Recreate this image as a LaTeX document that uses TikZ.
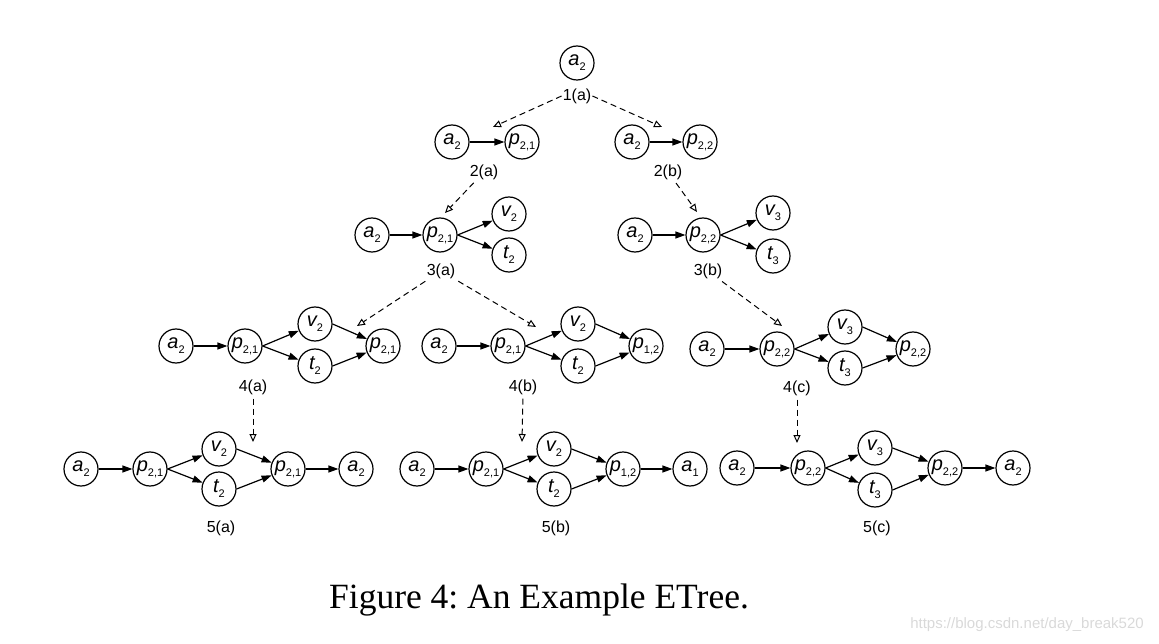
\documentclass[tikz,border=0pt]{standalone}
\usepackage{fontspec}
\setmainfont{Liberation Serif}
\newfontfamily\helv{Liberation Sans}
\usetikzlibrary{arrows.meta}
\newcommand\nl[2]{{\fontsize{20}{20}\selectfont\itshape #1}\raisebox{-5pt}{\fontsize{11}{11}\selectfont #2}}
\tikzset{
  st/.style={circle,draw,line width=1.2pt,minimum size=34pt,inner sep=0pt,font=\helv},
  lab/.style={font=\helv\fontsize{16}{16}\selectfont,inner sep=1pt},
  arr/.style={line width=1.2pt,-{Triangle[length=10pt,width=7pt]}},
  darr/.style={line width=1pt,dash pattern=on 6pt off 4pt,-{Triangle[open,length=8pt,width=7pt]}},
}
\begin{document}
\begin{tikzpicture}[x=1pt,y=-1pt]
\useasboundingbox (0,0) rectangle (1159,644);
% level 1
\node[st] (r) at (577,63) {\nl{a}{2}};
\node[lab] (l1a) at (577,96) {1(a)};
% level 2
\node[st] (b1) at (452,142) {\nl{a}{2}};
\node[st] (b2) at (522,142) {\nl{p}{2,1}};
\node[st] (b3) at (632,142) {\nl{a}{2}};
\node[st] (b4) at (700,142) {\nl{p}{2,2}};
\node[lab] (l2a) at (484,172) {2(a)};
\node[lab] (l2b) at (668,172) {2(b)};
\draw[arr] (b1) -- (b2);
\draw[arr] (b3) -- (b4);
% level 3
\node[st] (c1) at (372,235) {\nl{a}{2}};
\node[st] (c2) at (440,235) {\nl{p}{2,1}};
\node[st] (c3) at (509,214) {\nl{v}{2}};
\node[st] (c4) at (509,255) {\nl{t}{2}};
\node[lab] (l3a) at (441,271) {3(a)};
\node[st] (d1) at (635,235) {\nl{a}{2}};
\node[st] (d2) at (703,235) {\nl{p}{2,2}};
\node[st] (d3) at (773,213) {\nl{v}{3}};
\node[st] (d4) at (773,256) {\nl{t}{3}};
\node[lab] (l3b) at (708,271) {3(b)};
\draw[arr] (c1) -- (c2);
\draw[arr] (c2.east) -- (c3);
\draw[arr] (c2.east) -- (c4);
\draw[arr] (d1) -- (d2);
\draw[arr] (d2.east) -- (d3);
\draw[arr] (d2.east) -- (d4);
% level 4
\node[st] (e1) at (176,346) {\nl{a}{2}};
\node[st] (e2) at (245,346) {\nl{p}{2,1}};
\node[st] (e3) at (315,324) {\nl{v}{2}};
\node[st] (e4) at (315,366) {\nl{t}{2}};
\node[st] (e5) at (383,346) {\nl{p}{2,1}};
\node[lab] (l4a) at (253,387) {4(a)};
\node[st] (f1) at (439,346) {\nl{a}{2}};
\node[st] (f2) at (508,346) {\nl{p}{2,1}};
\node[st] (f3) at (578,324) {\nl{v}{2}};
\node[st] (f4) at (578,366) {\nl{t}{2}};
\node[st] (f5) at (646,346) {\nl{p}{1,2}};
\node[lab] (l4b) at (523,387) {4(b)};
\node[st] (g1) at (707,349) {\nl{a}{2}};
\node[st] (g2) at (777,349) {\nl{p}{2,2}};
\node[st] (g3) at (845,327) {\nl{v}{3}};
\node[st] (g4) at (845,368) {\nl{t}{3}};
\node[st] (g5) at (913,349) {\nl{p}{2,2}};
\node[lab] (l4c) at (797,388) {4(c)};
\foreach \p in {e,f,g}{
  \draw[arr] (\p1) -- (\p2);
  \draw[arr] (\p2.east) -- (\p3);
  \draw[arr] (\p2.east) -- (\p4);
  \draw[arr] (\p3.east) -- (\p5);
  \draw[arr] (\p4.east) -- (\p5);
}
% level 5
\node[st] (h1) at (81,469) {\nl{a}{2}};
\node[st] (h2) at (150,469) {\nl{p}{2,1}};
\node[st] (h3) at (219,449) {\nl{v}{2}};
\node[st] (h4) at (219,489) {\nl{t}{2}};
\node[st] (h5) at (288,469) {\nl{p}{2,1}};
\node[st] (h6) at (356,469) {\nl{a}{2}};
\node[lab] (l5a) at (221,528) {5(a)};
\node[st] (i1) at (417,469) {\nl{a}{2}};
\node[st] (i2) at (486,469) {\nl{p}{2,1}};
\node[st] (i3) at (554,449) {\nl{v}{2}};
\node[st] (i4) at (554,489) {\nl{t}{2}};
\node[st] (i5) at (623,469) {\nl{p}{1,2}};
\node[st] (i6) at (690,469) {\nl{a}{1}};
\node[lab] (l5b) at (556,528) {5(b)};
\node[st] (j1) at (737,468) {\nl{a}{2}};
\node[st] (j2) at (808,468) {\nl{p}{2,2}};
\node[st] (j3) at (875,448) {\nl{v}{3}};
\node[st] (j4) at (875,490) {\nl{t}{3}};
\node[st] (j5) at (945,468) {\nl{p}{2,2}};
\node[st] (j6) at (1013,468) {\nl{a}{2}};
\node[lab] (l5c) at (877,528) {5(c)};
\foreach \p in {h,i,j}{
  \draw[arr] (\p1) -- (\p2);
  \draw[arr] (\p2.east) -- (\p3);
  \draw[arr] (\p2.east) -- (\p4);
  \draw[arr] (\p3.east) -- (\p5);
  \draw[arr] (\p4.east) -- (\p5);
  \draw[arr] (\p5) -- (\p6);
}
% dashed tree edges
\coordinate (t2a) at (493,127);
\coordinate (t2b) at (662,127);
\coordinate (t3a) at (445,213);
\coordinate (t3b) at (697,212);
\coordinate (t4a) at (357,326);
\coordinate (t4b) at (536,327);
\coordinate (t4c) at (782,326);
\coordinate (t5a) at (253,442);
\coordinate (t5b) at (522,442);
\coordinate (t5c) at (797,443);
\draw[darr] (l1a.west) -- (t2a);
\draw[darr] (l1a.east) -- (t2b);
\draw[darr,shorten <=3pt] (l2a) -- (t3a);
\draw[darr,shorten <=3pt] (l2b) -- (t3b);
\draw[darr,shorten <=3pt] (l3a) -- (t4a);
\draw[darr,shorten <=3pt] (l3a) -- (t4b);
\draw[darr,shorten <=3pt] (l3b) -- (t4c);
\draw[darr,shorten <=3pt] (l4a.south) -- (t5a);
\draw[darr,shorten <=3pt] (l4b.south) -- (t5b);
\draw[darr,shorten <=3pt] (l4c.south) -- (t5c);
% caption
\node[font=\fontsize{35.5}{35.5}\selectfont,inner sep=0pt] (cap) at (539,600) {Figure 4:\ An Example ETree.};
\node[font=\helv\fontsize{15}{15}\selectfont,text=black!15,inner sep=0pt] (wm) at (1027,625) {https://blog.csdn.net/day\_break520};
\end{tikzpicture}
\end{document}
